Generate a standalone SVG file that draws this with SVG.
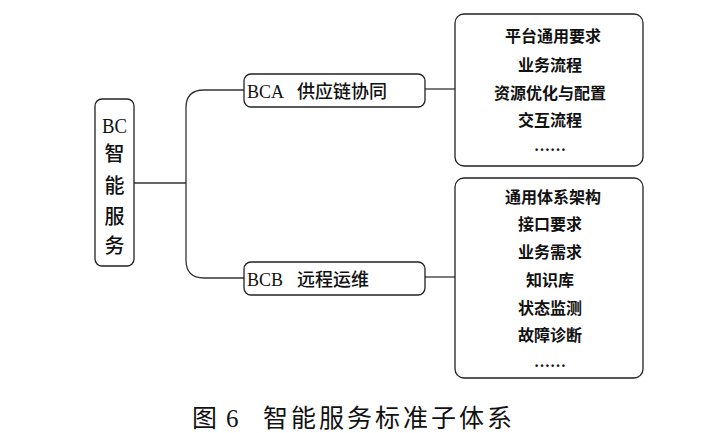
<svg xmlns="http://www.w3.org/2000/svg" width="708" height="433" viewBox="0 0 708 433">
<style>
.box{fill:#fff;stroke:#222;stroke-width:1.3}
.ln{fill:none;stroke:#333;stroke-width:1.3}
.t{font-family:"Liberation Serif","Noto Sans CJK SC",serif;fill:#111}
.m{font-weight:500}
.b{font-family:"Liberation Serif","Noto Sans CJK SC",serif;font-weight:bold;font-size:16px;fill:#111;text-anchor:middle}
</style>
<rect width="708" height="433" fill="#fff"/>
<g id="connectors">
<line class="ln" x1="134" y1="183" x2="186" y2="183"/>
<path class="ln" d="M244 90 H204 Q186 90 186 108 V260 Q186 278 204 278 H244"/>
<line class="ln" x1="425" y1="89" x2="455" y2="89"/>
<line class="ln" x1="425" y1="277" x2="455" y2="277"/>
</g>
<g id="bc">
<rect class="box" x="95" y="99" width="39" height="167" rx="7"/>
<text class="t" x="114.5" y="133" font-size="22" text-anchor="middle" transform="translate(114.5 0) scale(0.85 1) translate(-114.5 0)">BC</text>
<text class="t m" x="114.5" y="161" font-size="20" text-anchor="middle">智</text>
<text class="t m" x="114.5" y="193" font-size="20" text-anchor="middle">能</text>
<text class="t m" x="114.5" y="224" font-size="20" text-anchor="middle">服</text>
<text class="t m" x="114.5" y="253" font-size="20" text-anchor="middle">务</text>
</g>
<g id="bca">
<rect class="box" x="244" y="74" width="181" height="33" rx="7"/>
<text class="t" x="247" y="98" font-size="18">BCA</text>
<text class="t m" x="297" y="98" font-size="18">供应链协同</text>
</g>
<g id="bcb">
<rect class="box" x="244" y="262" width="181" height="33" rx="7"/>
<text class="t" x="247" y="286" font-size="18">BCB</text>
<text class="t m" x="297" y="286" font-size="18">远程运维</text>
</g>
<g id="list-a">
<rect class="box" x="455" y="14" width="188" height="152" rx="9"/>
<text class="b" x="553" y="42">平台通用要求</text>
<text class="b" x="550" y="71">业务流程</text>
<text class="b" x="550" y="99">资源优化与配置</text>
<text class="b" x="550" y="126">交互流程</text>
<text class="b" x="550" y="151">……</text>
</g>
<g id="list-b">
<rect class="box" x="455" y="178" width="188" height="200" rx="9"/>
<text class="b" x="553" y="203">通用体系架构</text>
<text class="b" x="550" y="230">接口要求</text>
<text class="b" x="550" y="258">业务需求</text>
<text class="b" x="550" y="286">知识库</text>
<text class="b" x="550" y="314">状态监测</text>
<text class="b" x="550" y="341">故障诊断</text>
<text class="b" x="550" y="367">……</text>
</g>
<g id="caption" font-size="25">
<text class="t" x="192" y="427">图</text>
<text class="t" x="226" y="427">6</text>
<text class="t" x="263" y="427" letter-spacing="3">智能服务标准子体系</text>
</g>
</svg>
